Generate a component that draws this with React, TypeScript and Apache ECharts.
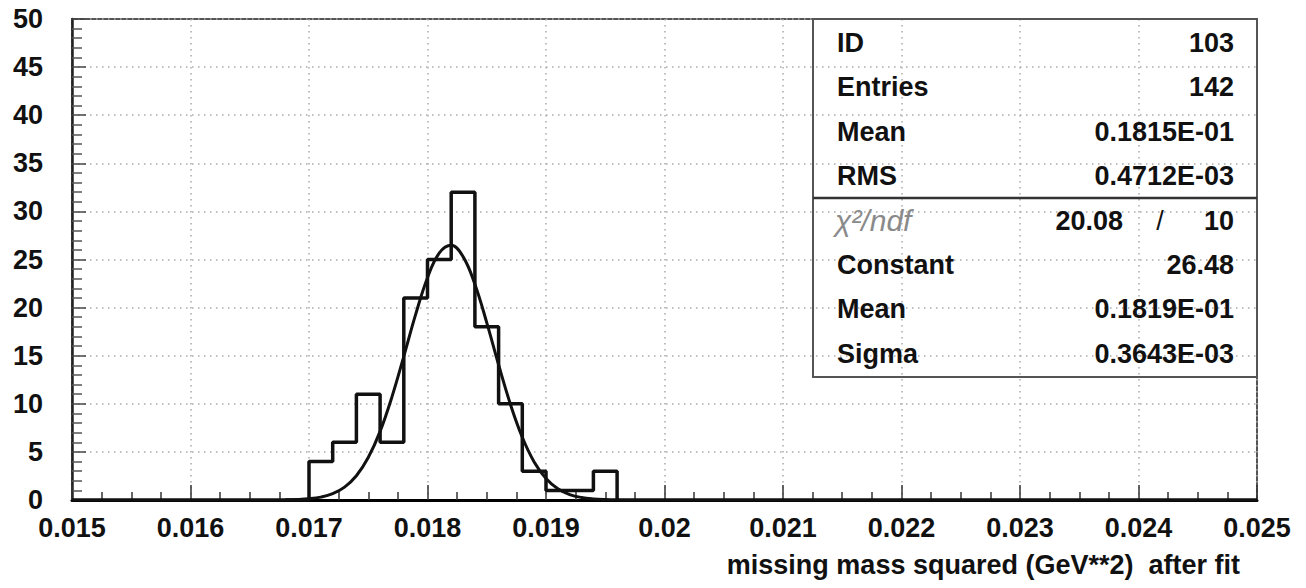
import React, { useEffect, useRef } from "react";
import * as echarts from "echarts";

// Histogram bin edges (lower edges + final upper edge) and counts
const binEdges = [0.017, 0.0172, 0.0174, 0.0176, 0.0178, 0.018, 0.0182, 0.0184, 0.0186, 0.0188, 0.019, 0.0192, 0.0194, 0.0196];
const binCounts = [4, 6, 11, 6, 21, 25, 32, 18, 10, 3, 1, 1, 3];

// Gaussian fit curve
const curveX = [0.0168, 0.0169, 0.017, 0.0171, 0.0172, 0.0173, 0.0174, 0.0175, 0.0176, 0.0177, 0.0178, 0.0179, 0.018, 0.0181, 0.0182, 0.0183, 0.0184, 0.0185, 0.0186, 0.0187, 0.0188, 0.0189, 0.019, 0.0191, 0.0192, 0.0193, 0.0194, 0.0195, 0.0196];
const curveY = [0.018, 0.05, 0.128, 0.301, 0.66, 1.34, 2.52, 4.41, 7.13, 10.72, 14.93, 19.29, 23.11, 25.68, 26.47, 25.3, 22.43, 18.44, 14.06, 9.94, 6.52, 3.96, 2.24, 1.17, 0.567, 0.255, 0.107, 0.041, 0.015];

// Stats box
const statLabels = ["ID", "Entries", "Mean", "RMS"];
const statValues = ["103", "142", "0.1815E-01", "0.4712E-03"];
const fitLabels = ["Constant", "Mean", "Sigma"];
const fitValues = ["26.48", "0.1819E-01", "0.3643E-03"];
const chi2Value = "20.08";
const ndfValue = "10";

const xMin = 0.015;
const xMax = 0.025;
const xStep = 0.001;
const yMin = 0;
const yMax = 50;
const yStep = 5;
const xTitle = "missing mass squared (GeV**2)  after fit";

const FONT = '"Liberation Sans", Arial, Helvetica, sans-serif';

export default function App() {
  const ref = useRef<HTMLDivElement>(null);
  useEffect(() => {
    if (!ref.current) return;
    const chart = echarts.init(ref.current, undefined, { renderer: "svg" });

    const histData: number[][] = [[xMin, 0]];
    for (let i = 0; i < binCounts.length; i++) histData.push([binEdges[i], binCounts[i]]);
    histData.push([binEdges[binEdges.length - 1], 0]);
    histData.push([xMax, 0]);

    const curveData = curveX.map((x, i) => [x, curveY[i]]);

    const rowY0 = 43;
    const rowH = 44.4;
    const labelX = 837;
    const valueX = 1234;
    const txt = (text: string, x: number, y: number, align: string, extra: any = {}) => ({
      type: "text",
      x,
      y,
      z: 100,
      style: {
        text,
        fill: "#111",
        font: `bold 27px ${FONT}`,
        align,
        textAlign: align,
        verticalAlign: "middle",
        textVerticalAlign: "middle",
        ...extra,
      },
    });

    const graphics: any[] = [];
    statLabels.forEach((l, i) => {
      graphics.push(txt(l, labelX, rowY0 + rowH * i, "left"));
      graphics.push(txt(statValues[i], valueX, rowY0 + rowH * i, "right"));
    });
    const chiY = rowY0 + rowH * 4;
    graphics.push(txt("χ²/ndf", labelX - 2, chiY, "left", { fill: "#8a8a8a", font: `italic normal 30px ${FONT}` }));
    graphics.push(txt(chi2Value, 1123, chiY, "right"));
    graphics.push(txt("/", 1160, chiY, "center", { font: `normal 27px ${FONT}` }));
    graphics.push(txt(ndfValue, valueX, chiY, "right"));
    fitLabels.forEach((l, i) => {
      graphics.push(txt(l, labelX, rowY0 + rowH * (5 + i), "left"));
      graphics.push(txt(fitValues[i], valueX, rowY0 + rowH * (5 + i), "right"));
    });
    graphics.push({
      type: "rect",
      z: 99,
      shape: { x: 813, y: 19, width: 444, height: 358 },
      style: { fill: "none", stroke: "#555", lineWidth: 2 },
    });
    graphics.push({
      type: "line",
      z: 99,
      shape: { x1: 813, y1: 198, x2: 1257, y2: 198 },
      style: { stroke: "#333", lineWidth: 2.5 },
    });
    graphics.push(txt(xTitle, 1240, 565, "right"));

    chart.setOption({
      animation: false,
      backgroundColor: "#fff",
      textStyle: { fontFamily: FONT },
      grid: {
        left: 72,
        top: 19,
        right: 49,
        bottom: 88,
        show: true,
        borderColor: "#555",
        borderWidth: 2,
        backgroundColor: "transparent",
      },
      xAxis: {
        type: "value",
        min: xMin,
        max: xMax,
        interval: xStep,
        axisLine: { show: true, onZero: false, lineStyle: { color: "#000", width: 3 } },
        axisTick: { show: true, inside: true, length: 15, lineStyle: { color: "#333", width: 1.5 } },
        minorTick: { show: true, splitNumber: 4, length: 8, lineStyle: { color: "#333", width: 1.5 } },
        axisLabel: {
          margin: 14,
          fontSize: 27,
          fontWeight: "bold",
          color: "#111",
          fontFamily: FONT,
          formatter: (v: number) => String(parseFloat(v.toFixed(4))),
        },
        splitLine: { show: true, lineStyle: { color: "#aaa", width: 1.5, type: [1.5, 4.5] } },
      },
      yAxis: {
        type: "value",
        min: yMin,
        max: yMax,
        interval: yStep,
        axisLine: { show: true, lineStyle: { color: "#222", width: 2.5 } },
        axisTick: { show: true, inside: true, length: 14, lineStyle: { color: "#444", width: 1.5 } },
        minorTick: { show: true, splitNumber: 5, length: 10, lineStyle: { color: "#555", width: 1.5 } },
        axisLabel: {
          margin: 29,
          fontSize: 27,
          fontWeight: "bold",
          color: "#111",
          fontFamily: FONT,
        },
        splitLine: { show: true, lineStyle: { color: "#aaa", width: 1.5, type: [1.5, 4.5] } },
      },
      series: [
        {
          type: "line",
          step: "end",
          data: histData,
          symbol: "none",
          lineStyle: { color: "#111", width: 3.5 },
          z: 5,
        },
        {
          type: "line",
          data: curveData,
          smooth: 0.4,
          symbol: "none",
          lineStyle: { color: "#111", width: 3 },
          z: 6,
        },
      ],
      graphic: graphics,
    });

    return () => chart.dispose();
  }, []);

  return (
    <div
      ref={ref}
      style={{ position: "fixed", left: 0, top: 0, width: 1306, height: 588, background: "#fff" }}
    />
  );
}
